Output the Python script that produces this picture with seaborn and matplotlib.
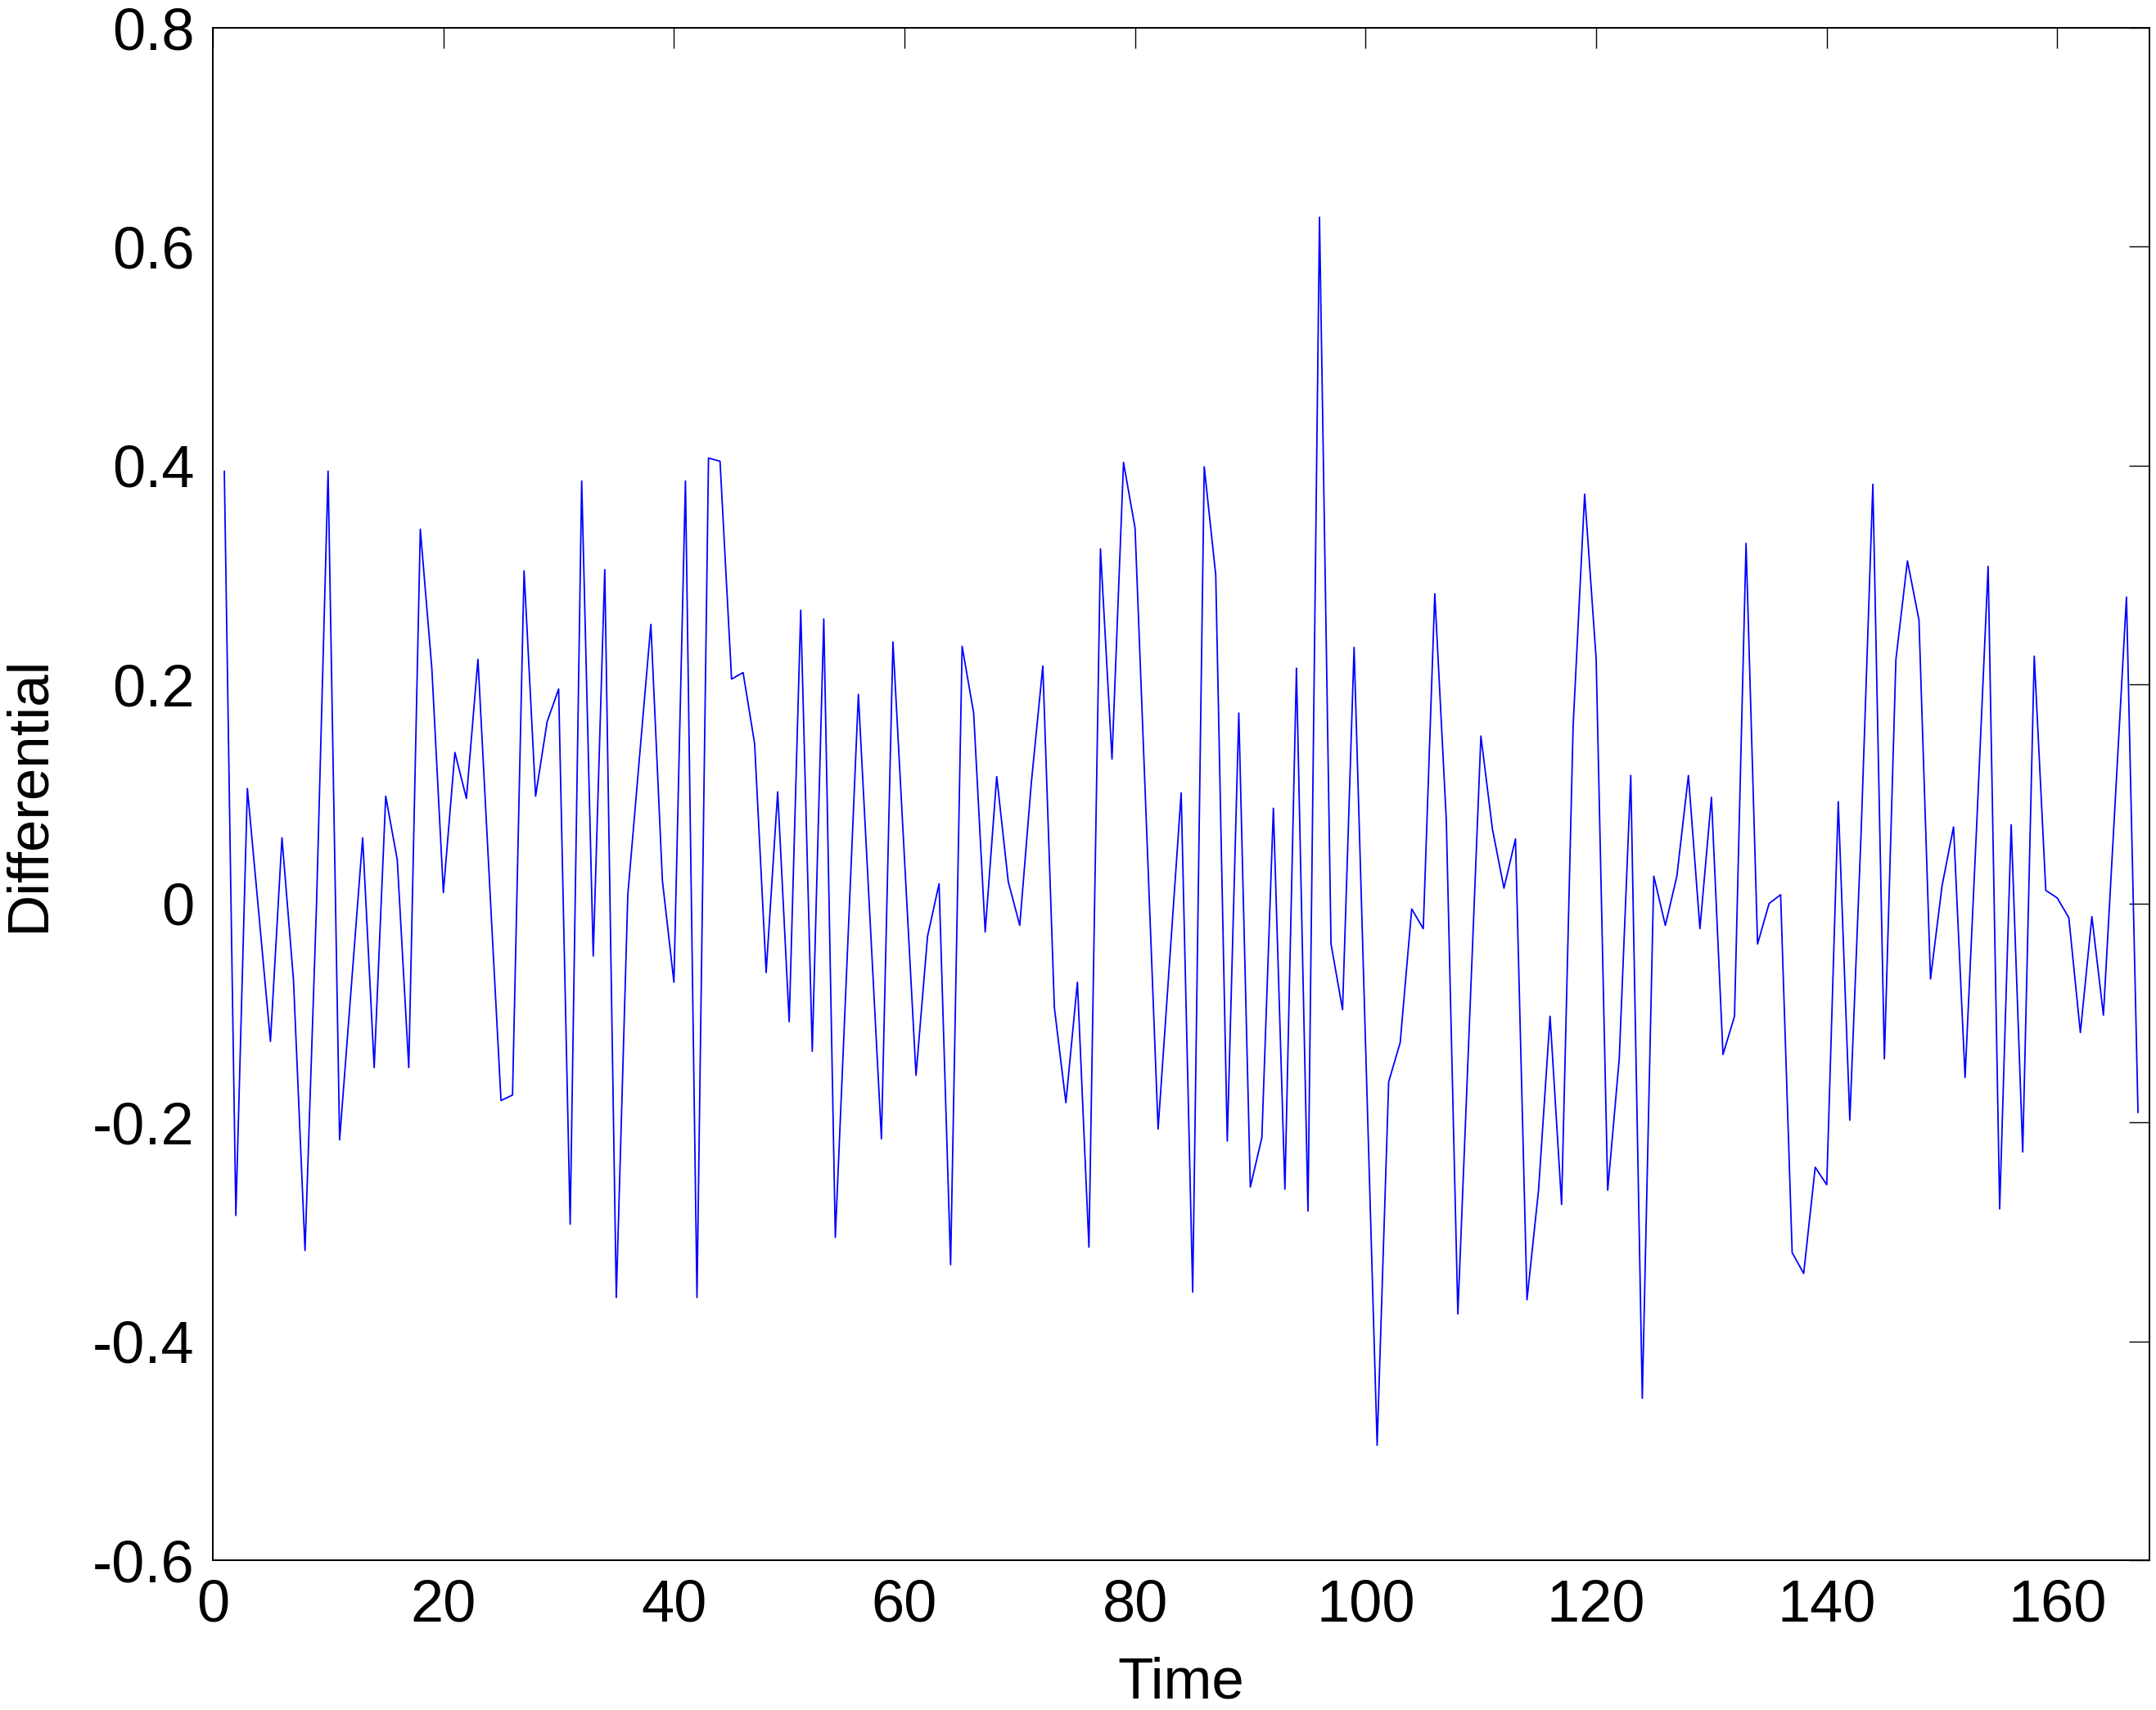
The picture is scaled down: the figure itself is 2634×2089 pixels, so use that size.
import numpy as np
import pandas as pd
import seaborn as sns
import matplotlib
matplotlib.use('Agg')
import matplotlib.pyplot as plt

# differential series (t = 1..167)
differential = [
    0.395, -0.285, 0.105, -0.01, -0.126, 0.06, -0.07, -0.317, 0.0, 0.395,
    -0.216, -0.078, 0.06, -0.15, 0.098, 0.04, -0.15, 0.342, 0.215, 0.01,
    0.138, 0.096, 0.223, 0.02, -0.18, -0.175, 0.304, 0.098, 0.166, 0.196,
    -0.293, 0.386, -0.048, 0.305, -0.36, 0.008, 0.132, 0.255, 0.021, -0.072,
    0.386, -0.36, 0.407, 0.404, 0.205, 0.211, 0.146, -0.063, 0.102, -0.108,
    0.268, -0.135, 0.26, -0.305, -0.057, 0.191, -0.012, -0.215, 0.239, 0.041,
    -0.157, -0.03, 0.018, -0.33, 0.235, 0.174, -0.026, 0.116, 0.02, -0.02,
    0.11, 0.217, -0.095, -0.182, -0.072, -0.314, 0.324, 0.132, 0.403, 0.343,
    0.068, -0.206, -0.053, 0.101, -0.355, 0.399, 0.30, -0.217, 0.174, -0.259,
    -0.214, 0.087, -0.261, 0.215, -0.281, 0.627, -0.037, -0.097, 0.234, -0.131,
    -0.495, -0.163, -0.127, -0.005, -0.023, 0.283, 0.076, -0.375, -0.11, 0.153,
    0.068, 0.014, 0.059, -0.362, -0.262, -0.103, -0.275, 0.162, 0.374, 0.223,
    -0.262, -0.142, 0.117, -0.452, 0.025, -0.02, 0.025, 0.117, -0.023, 0.097,
    -0.138, -0.103, 0.329, -0.037, 0.0, 0.008, -0.319, -0.338, -0.241, -0.257,
    0.093, -0.198, 0.07, 0.383, -0.142, 0.223, 0.313, 0.259, -0.069, 0.016,
    0.07, -0.159, 0.07, 0.308, -0.279, 0.072, -0.227, 0.226, 0.012, 0.005,
    -0.013, -0.118, -0.012, -0.102, 0.089, 0.28, -0.191,
]
time = list(range(1, len(differential) + 1))

x_ticks = [0, 20, 40, 60, 80, 100, 120, 140, 160]
y_ticks = [-0.6, -0.4, -0.2, 0, 0.2, 0.4, 0.6, 0.8]
y_tick_labels = ['-0.6', '-0.4', '-0.2', '0', '0.2', '0.4', '0.6', '0.8']

df = pd.DataFrame({'Time': time, 'Differential': differential})

sns.set_style('white')
plt.rcParams['font.family'] = ['Liberation Sans', 'DejaVu Sans']
plt.rcParams['text.color'] = 'black'
plt.rcParams['axes.labelcolor'] = 'black'

fig = plt.figure(figsize=(13.17, 10.445), dpi=200)
ax = fig.add_axes([0.0987, 0.0876, 0.8983, 0.8961])

sns.lineplot(data=df, x='Time', y='Differential', color='#0000ff', linewidth=0.65, ax=ax)

ax.set_xlim(0, 168)
ax.set_ylim(-0.6, 0.8)
ax.set_xticks(x_ticks)
ax.set_yticks(y_ticks)
ax.set_yticklabels(y_tick_labels)
ax.tick_params(direction='in', length=9, width=0.5, labelsize=26,
               top=True, right=True, colors='black')
ax.tick_params(axis='x', pad=8)
ax.tick_params(axis='y', pad=8)
for s in ax.spines.values():
    s.set_color('black')
    s.set_linewidth(0.7)

ax.set_xlabel('Time', fontsize=25.5, labelpad=10, color='black')
ax.set_ylabel('Differential', fontsize=25.5, labelpad=16, color='black')

fig.savefig('out.png', dpi=200, facecolor='white')
